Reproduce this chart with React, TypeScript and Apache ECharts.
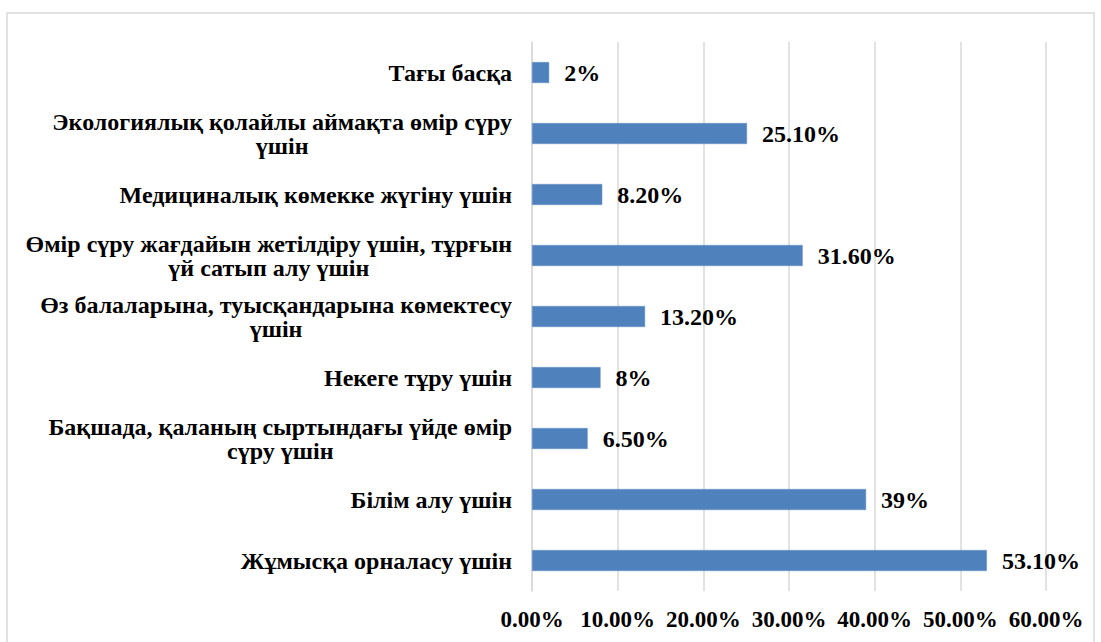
import React, { useEffect, useRef } from "react";
import * as echarts from "echarts";

// Categories listed bottom-to-top (as drawn on the category axis)
const categories: string[] = [
  "Жұмысқа орналасу үшін",
  "Білім алу үшін",
  "Бақшада, қаланың сыртындағы үйде өмір\nсүру үшін",
  "Некеге тұру үшін",
  "Өз балаларына, туысқандарына көмектесу\nүшін",
  "Өмір сүру жағдайын жетілдіру үшін, тұрғын\nүй сатып алу үшін",
  "Медициналық көмекке жүгіну үшін",
  "Экологиялық қолайлы аймақта өмір сүру\nүшін",
  "Тағы басқа",
];

const values: number[] = [53.1, 39, 6.5, 8, 13.2, 31.6, 8.2, 25.1, 2];

const valueLabels: string[] = [
  "53.10%",
  "39%",
  "6.50%",
  "8%",
  "13.20%",
  "31.60%",
  "8.20%",
  "25.10%",
  "2%",
];

const FONT = "Liberation Serif";

export default function App() {
  const ref = useRef<HTMLDivElement>(null);

  useEffect(() => {
    if (!ref.current) return;
    const chart = echarts.init(ref.current, null, { renderer: "svg" });
    chart.setOption({
      animation: false,
      backgroundColor: "#ffffff",
      textStyle: { fontFamily: FONT, fontWeight: "bold" },
      graphic: [
        {
          type: "rect",
          shape: { x: 7, y: 13, width: 1087, height: 640 },
          style: { fill: "none", stroke: "#d9d9d9", lineWidth: 1.5 },
          silent: true,
        },
      ],
      grid: { left: 532, right: 55, top: 42, bottom: 51, containLabel: false },
      xAxis: {
        type: "value",
        min: 0,
        max: 60,
        interval: 10,
        axisLine: { show: false },
        axisTick: { show: false },
        splitLine: { show: true, lineStyle: { color: "#d9d9d9", width: 1.5 } },
        axisLabel: {
          margin: 17,
          color: "#000",
          fontFamily: FONT,
          fontWeight: "bold",
          fontSize: 23,
          formatter: (v: number) => v.toFixed(2) + "%",
        },
      },
      yAxis: {
        type: "category",
        data: categories,
        axisLine: { show: true, lineStyle: { color: "#d9d9d9", width: 1.5 } },
        axisTick: { show: false },
        axisLabel: {
          margin: 20,
          color: "#000",
          fontFamily: FONT,
          fontWeight: "bold",
          fontSize: 24,
          lineHeight: 24,
          formatter: (v: string) =>
            v
              .split("\n")
              .map((s) => "{c|" + s + "}")
              .join("\n"),
          rich: {
            c: {
              align: "center",
              color: "#000",
              fontFamily: FONT,
              fontWeight: "bold",
              fontSize: 24,
              lineHeight: 24,
            },
          },
        },
      },
      series: [
        {
          type: "bar",
          data: values,
          barWidth: 21,
          itemStyle: { color: "#4f81bd", borderColor: "#6b93c7", borderWidth: 0.5 },
          label: {
            show: true,
            position: "right",
            distance: 15,
            color: "#000",
            fontFamily: FONT,
            fontWeight: "bold",
            fontSize: 24,
            formatter: (p: any) => valueLabels[p.dataIndex],
          },
        },
      ],
    });
    return () => chart.dispose();
  }, []);

  return <div ref={ref} style={{ width: 1101, height: 642, position: "absolute", left: 0, top: 0 }} />;
}
